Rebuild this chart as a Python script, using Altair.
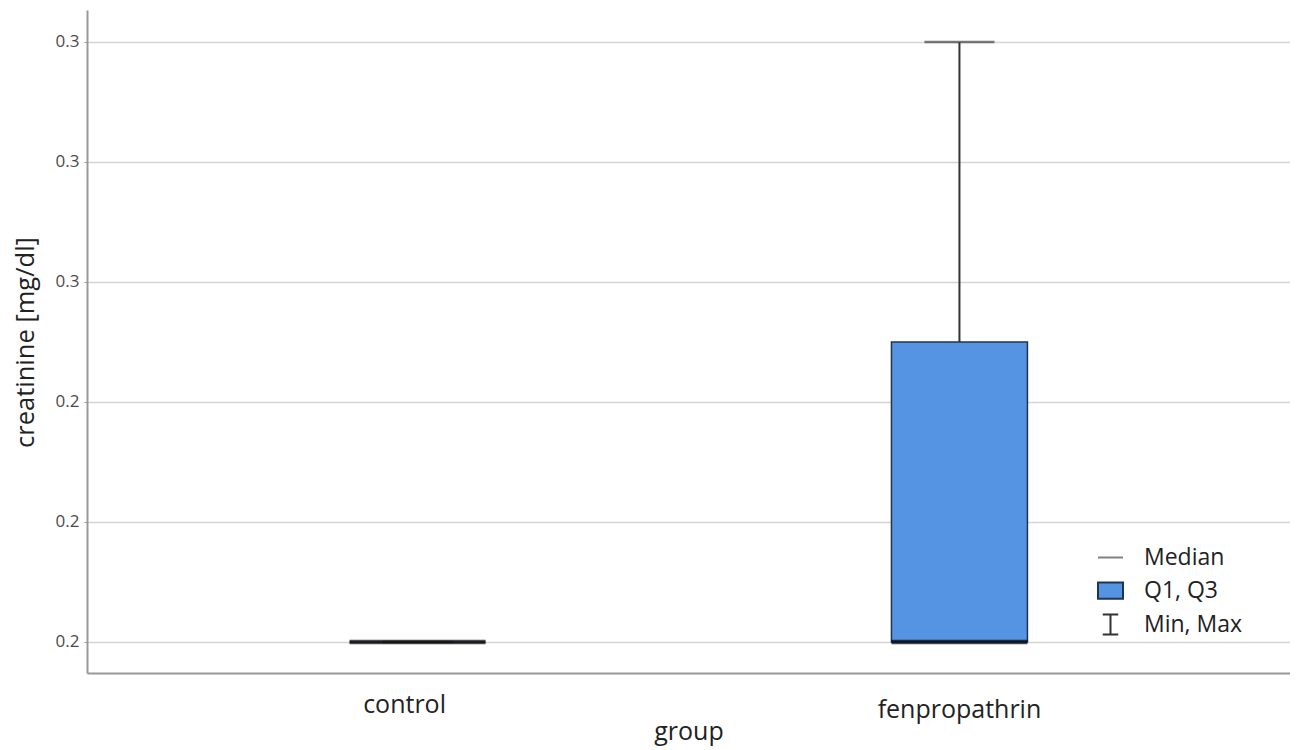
import altair as alt
import pandas as pd

groups = ["control", "fenpropathrin"]
minimum = [0.20, 0.20]
q1 = [0.20, 0.20]
median = [0.20, 0.20]
q3 = [0.20, 0.25]
maximum = [0.20, 0.30]

y_ticks = [0.20, 0.22, 0.24, 0.26, 0.28, 0.30]
legend_items = ["Median", "Q1, Q3", "Min, Max"]

df = pd.DataFrame({"group": groups, "min": minimum, "q1": q1, "median": median,
                   "q3": q3, "max": maximum})
leg_df = pd.DataFrame({"item": legend_items, "group": groups + [groups[0]],
                       "val": [0.1, 0.1, 0.1]})

FONT = "Open Sans"
BLUE = "#5594e3"

x_enc = alt.X("group:N", sort=groups,
              scale=alt.Scale(paddingInner=0, paddingOuter=0.11),
              axis=alt.Axis(title="group", labelFontSize=25, labelColor="#222",
                            labelFont=FONT, labelAngle=0, ticks=False,
                            labelBaseline="alphabetic",
                            domainColor="#999", domainWidth=2,
                            labelPadding={"condition": {"test": "datum.value === 'control'", "value": 39}, "value": 44},
                            labelOffset={"condition": {"test": "datum.value === 'control'", "value": -13}, "value": 0},
                            titleFontSize=25, titleFont=FONT, titleFontWeight="normal",
                            titleColor="#222", titleY=66, titleBaseline="alphabetic",
                            grid=False))

y_scale = alt.Scale(domain=[0.19483, 0.30533], nice=False, zero=False)
y_axis = alt.Axis(title="creatinine [mg/dl]", values=y_ticks, format=".1f",
                  labelFontSize=17, labelColor="#4a4a4a", labelFont=FONT,
                  tickSize=3, tickColor="#999", labelPadding=5,
                  domainColor="#999", domainWidth=2,
                  gridColor="#d4d4d4", gridWidth=1.6,
                  titleFontSize=25.5, titleFont=FONT, titleFontWeight="normal",
                  titleColor="#222", titleX=-62, titleY=332,
                  titleBaseline="middle", titleAlign="center")

base = alt.Chart(df)

whisker = base.mark_rule(color="#333", strokeWidth=2).encode(
    x=x_enc, y=alt.Y("q3:Q", scale=y_scale, axis=y_axis), y2="max:Q")
cap = base.mark_tick(color="#444", size=70, thickness=2.5).encode(
    x=x_enc, y=alt.Y("max:Q", scale=y_scale))
box = base.mark_bar(size=136, color=BLUE, stroke="#22344d", strokeWidth=1.5).encode(
    x=x_enc, y=alt.Y("q1:Q", scale=y_scale), y2="q3:Q")
med = base.mark_tick(color="#000", size=136, thickness=4.5).encode(
    x=x_enc, y=alt.Y("median:Q", scale=y_scale))

leg = alt.Legend(title=None, orient="none", legendX=1010, legendY=534,
                 labelFontSize=23, labelFont=FONT, labelColor="#222",
                 symbolSize=625, symbolStrokeWidth=2, rowPadding=7, labelOffset=20)
legend_layer = alt.Chart(leg_df).mark_point(opacity=1, strokeWidth=2, clip=True).encode(
    x=x_enc,
    y=alt.Y("val:Q", scale=y_scale),
    fill=alt.Fill("item:N", scale=alt.Scale(domain=legend_items,
                  range=["transparent", BLUE, "transparent"]), legend=leg),
    stroke=alt.Stroke("item:N", scale=alt.Scale(domain=legend_items,
                      range=["#808080", "#1f3552", "#333333"]), legend=leg),
    shape=alt.Shape("item:N", scale=alt.Scale(domain=legend_items,
                    range=["M-1,0H1", "M-1,-0.65H1V0.65H-1Z",
                           "M-0.62,-0.8H0.62M0,-0.8V0.8M-0.62,0.8H0.62"]), legend=leg),
)

chart = alt.layer(whisker, box, cap, med, legend_layer).properties(
    width=1203, height=663,
    autosize=alt.AutoSizeParams(type="none"),
    padding={"left": 79, "top": 2, "right": 0, "bottom": 76},
    background="white",
).configure_view(stroke=None)

chart.save("out.html", embed_options={"renderer": "svg", "actions": False})
